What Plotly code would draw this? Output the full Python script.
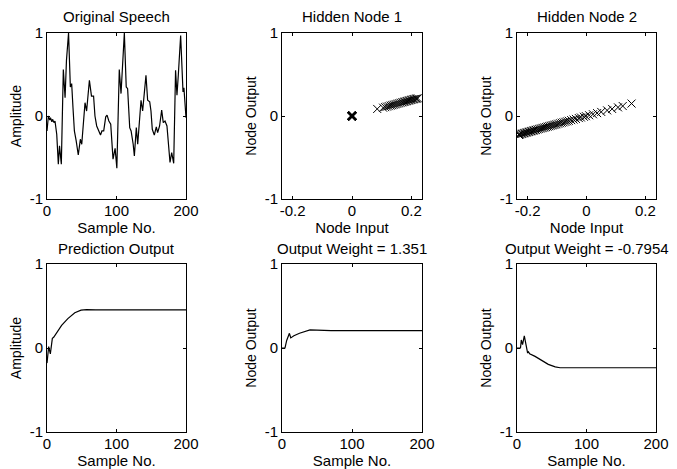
import plotly.graph_objects as go

# ---------------- data ----------------
speech_n = [0, 2, 4, 5, 7, 8, 10, 11.5, 14, 16.3, 18, 20.6, 23.5, 26, 28, 31, 33.6, 35.5, 37.4,
            39.4, 42, 45, 48, 50, 54.7, 57, 61, 64, 67, 69, 71.5, 74, 77, 79, 81.6, 84.5, 86.4,
            89, 91.7, 95, 98, 100.5, 104, 106.5, 108.4, 111.3, 114, 116, 119, 121, 124, 125.7,
            128.5, 130.5, 135.3, 137.6, 142.4, 144.8, 147.8, 149.6, 151.5, 154.4, 157.3, 159.2,
            162, 165, 167.3, 169.8, 172.6, 177, 179.4, 182.3, 185, 187, 189, 192.3, 195.7, 197, 200]
speech_amp = [-0.18, 0.0, -0.05, -0.02, -0.07, -0.04, -0.08, -0.06, -0.22, -0.58, -0.36, -0.58,
              0.56, 0.22, 0.67, 1.0, 0.35, 0.39, 0.10, -0.18, -0.30, -0.47, -0.28, -0.34, 0.16,
              0.06, 0.43, 0.24, 0.24, 0.0, -0.12, -0.18, -0.23, -0.18, -0.18, -0.01, 0.01, -0.06,
              -0.10, -0.52, -0.39, -0.63, 0.56, 0.27, 0.55, 1.0, 0.35, 0.33, -0.14, -0.18, -0.34,
              -0.48, -0.14, -0.34, 0.19, 0.06, 0.49, 0.19, 0.17, 0.06, -0.16, -0.23, -0.13, -0.20,
              -0.12, 0.07, -0.08, -0.06, -0.12, -0.56, -0.44, -0.57, 0.55, 0.25, 0.50, 0.97, 0.29,
              0.34, -0.02]

node1_in = [0, 0, 0, 0, 0, 0.085, 0.105, 0.112, 0.118, 0.124, 0.130, 0.135, 0.140, 0.145, 0.150,
            0.155, 0.160, 0.165, 0.170, 0.174, 0.178, 0.182, 0.186, 0.190, 0.194, 0.198, 0.202,
            0.206, 0.210, 0.214, 0.218, 0.222]
node1_out = [0, 0, 0, 0, 0, 0.085, 0.100, 0.107, 0.113, 0.119, 0.125, 0.130, 0.135, 0.140, 0.145,
             0.150, 0.155, 0.160, 0.165, 0.169, 0.173, 0.177, 0.181, 0.185, 0.189, 0.193, 0.197,
             0.201, 0.204, 0.207, 0.210, 0.213]

node2_in = [0.153, 0.123, 0.107, 0.087, 0.070, 0.050, 0.036, 0.022, 0.009, -0.002, -0.009, -0.019,
            -0.026, -0.036, -0.044, -0.052, -0.060, -0.066, -0.072, -0.078, -0.084, -0.090, -0.096,
            -0.102, -0.107, -0.112, -0.117, -0.122, -0.127, -0.132, -0.137, -0.142, -0.147, -0.152,
            -0.157, -0.162, -0.167, -0.172, -0.176, -0.180, -0.184, -0.188, -0.192, -0.196, -0.200,
            -0.204, -0.208, -0.212, -0.216, -0.220, -0.224, -0.228, -0.230, -0.230]
node2_out = [0.150, 0.120, 0.104, 0.085, 0.068, 0.049, 0.035, 0.021, 0.009, -0.002, -0.009, -0.018,
             -0.025, -0.035, -0.043, -0.050, -0.058, -0.064, -0.070, -0.076, -0.081, -0.087, -0.093,
             -0.099, -0.104, -0.109, -0.113, -0.118, -0.123, -0.128, -0.133, -0.138, -0.143, -0.147,
             -0.152, -0.157, -0.162, -0.167, -0.171, -0.175, -0.179, -0.183, -0.187, -0.191, -0.195,
             -0.199, -0.203, -0.207, -0.211, -0.215, -0.219, -0.223, -0.226, -0.226]

pred_n = [0, 2.4, 4.8, 7.7, 9.6, 12.5, 21, 30, 40, 49, 57, 70, 200]
pred_amp = [-0.18, 0.016, -0.07, 0.115, 0.127, 0.167, 0.27, 0.35, 0.42, 0.45, 0.458, 0.455, 0.455]

h1_n = [0, 4.3, 6.7, 9, 10.6, 12.5, 17, 25, 33, 40, 50, 70, 200]
h1_out = [0, 0, 0.09, 0.13, 0.175, 0.12, 0.145, 0.175, 0.2, 0.215, 0.212, 0.207, 0.207]

h2_n = [0, 5, 6.2, 8, 10.5, 12, 14, 15.3, 16.5, 18.2, 26, 36, 45, 55, 62, 200]
h2_out = [0, 0.0, 0.096, 0.04, 0.143, 0.09, 0.0, -0.06, -0.045, -0.07, -0.1, -0.15, -0.195, -0.225,
          -0.235, -0.235]

titles = ["Original Speech", "Hidden Node 1", "Hidden Node 2",
          "Prediction Output", "Output Weight = 1.351", "Output Weight = -0.7954"]
xtitles = ["Sample No.", "Node Input", "Node Input", "Sample No.", "Sample No.", "Sample No."]
ytitles = ["Amplitude", "Node Output", "Node Output", "Amplitude", "Node Output", "Node Output"]

# ---------------- layout ----------------
W, H = 677, 469
xdoms = [(47 / W, 186 / W), (282 / W, 422 / W), (517 / W, 656 / W)]
ydoms = [((H - 199) / H, (H - 33) / H), ((H - 432) / H, (H - 264) / H)]
FONT = "Liberation Sans, Arial, Helvetica, sans-serif"

fig = go.Figure()

line_style = dict(color="black", width=1.2)
mk = lambda xs: dict(symbol="x-thin-open", size=8, color="black",
                     line=dict(color="black", width=[2.2 if v == 0 else 1 for v in xs]))

fig.add_trace(go.Scatter(x=speech_n, y=speech_amp, mode="lines", line=line_style, xaxis="x", yaxis="y"))
fig.add_trace(go.Scatter(x=node1_in, y=node1_out, mode="markers", marker=mk(node1_in), xaxis="x2", yaxis="y2"))
fig.add_trace(go.Scatter(x=node2_in, y=node2_out, mode="markers", marker=mk(node2_in), xaxis="x3", yaxis="y3"))
fig.add_trace(go.Scatter(x=pred_n, y=pred_amp, mode="lines", line=line_style, xaxis="x4", yaxis="y4"))
fig.add_trace(go.Scatter(x=h1_n, y=h1_out, mode="lines", line=line_style, xaxis="x5", yaxis="y5"))
fig.add_trace(go.Scatter(x=h2_n, y=h2_out, mode="lines", line=line_style, xaxis="x6", yaxis="y6"))

annotations = []
for i in range(6):
    r, c = divmod(i, 3)
    xn = "xaxis" if i == 0 else f"xaxis{i + 1}"
    yn = "yaxis" if i == 0 else f"yaxis{i + 1}"
    xref = "x" if i == 0 else f"x{i + 1}"
    yref = "y" if i == 0 else f"y{i + 1}"
    is_node = c in (1, 2) and r == 0
    xax = dict(domain=xdoms[c], anchor=yref, range=[-0.236, 0.236] if is_node else [0, 200],
               tickvals=[-0.2, 0, 0.2] if is_node else [0, 100, 200],
               ticktext=["-0.2", "0", "0.2"] if is_node else ["0", "100", "200"],
               showline=True, linecolor="black", linewidth=1, mirror="ticks",
               ticks="inside", ticklen=3, tickcolor="black", showgrid=False, zeroline=False,
               automargin=False, ticklabelstandoff=-2,
               tickfont=dict(family=FONT, size=15, color="black"),
               title=dict(text=xtitles[i], font=dict(family=FONT, size=15, color="black"), standoff=3))
    yax = dict(domain=ydoms[r], anchor=xref, range=[-1, 1], tickvals=[-1, 0, 1],
               ticktext=["-1", "0", "1"],
               showline=True, linecolor="black", linewidth=1, mirror="ticks",
               ticks="inside", ticklen=3, tickcolor="black", showgrid=False, zeroline=False,
               automargin=False,
               tickfont=dict(family=FONT, size=15, color="black"),
               title=dict(text=ytitles[i], font=dict(family=FONT, size=14, color="black"), standoff=4))
    fig.layout[xn] = xax
    fig.layout[yn] = yax
    annotations.append(dict(text=titles[i], x=(xdoms[c][0] + xdoms[c][1]) / 2, y=ydoms[r][1],
                            xref="paper", yref="paper", xanchor="center", yanchor="bottom",
                            yshift=5 if r == 1 else 6, showarrow=False,
                            font=dict(family=FONT, size=15, color="black")))

fig.update_layout(width=W, height=H, margin=dict(l=0, r=0, t=0, b=0, autoexpand=False),
                  paper_bgcolor="white", plot_bgcolor="white", showlegend=False,
                  annotations=annotations)

fig.write_html("out.html", config={"displayModeBar": False},
               post_script="document.body.style.margin='0';document.body.style.overflow='hidden';")
